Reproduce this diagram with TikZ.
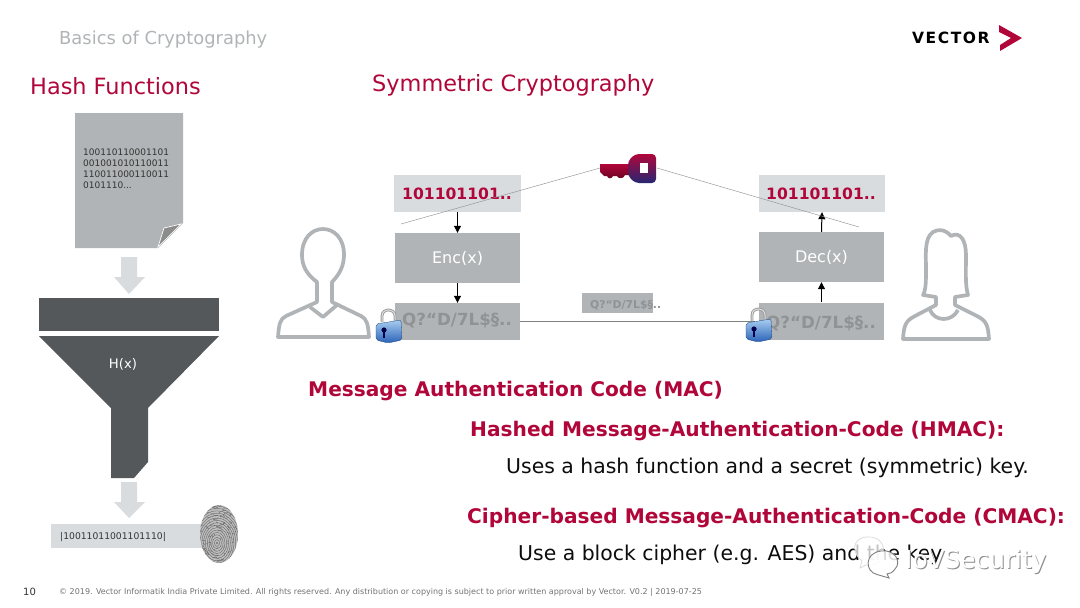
\documentclass[tikz,border=0pt]{standalone}
\usepackage{fontspec}
\setmainfont{DejaVu Sans}
\usetikzlibrary{arrows.meta,shadings}
\definecolor{crim}{HTML}{B1063A}
\definecolor{greyA}{HTML}{B1B4B6}
\definecolor{greyL}{HTML}{D9DCDF}
\definecolor{greyD}{HTML}{54585A}
\definecolor{greyT}{HTML}{8F9396}
\definecolor{lockTop}{HTML}{A8CDF0}
\definecolor{lockBot}{HTML}{2A62B8}
\tikzset{
  x=1pt,y=-1pt,
  txt/.style={inner sep=0pt,anchor=west,text depth=0pt},
  title/.style={txt,text=crim,font=\fontsize{22.4}{26}\selectfont},
  head/.style={txt,text=crim,font=\bfseries\fontsize{20.15}{24}\selectfont},
  body/.style={txt,text=black!95,font=\fontsize{20.4}{24}\selectfont},
  plain/.style={draw=none,fill=greyL,inner sep=0pt,minimum width=#1,minimum height=37pt},
  cipher/.style={draw=none,fill=greyA,inner sep=0pt,minimum width=#1,minimum height=37pt},
  func/.style={draw=none,fill=greyA,inner sep=0pt,minimum width=125pt,minimum height=50pt,text=white,font=\fontsize{16}{19}\selectfont},
  bits/.style={txt,text=crim,font=\bfseries\fontsize{15.6}{19}\selectfont},
  ctext/.style={txt,text=greyT,font=\bfseries\fontsize{16.7}{20}\selectfont},
  flow/.style={-{Triangle[length=7pt,width=7pt]},line width=1pt,black},
  wire/.style={line width=1.3pt,draw=greyD!75},
  keyline/.style={line width=.45pt,draw=greyT},
  person/.style={draw=greyA,line width=3.7pt,line join=round,fill=none},
  blockarrow/.style={fill=greyL,draw=none},
  lockpic/.pic={
    \draw[line width=2.8pt,draw=black!40] (-6,-3) -- (-6,-9) .. controls (-6,-17) and (7,-17) .. (7,-9) -- (7,-3);
    \draw[line width=1pt,draw=black!12] (-6,-3) -- (-6,-9) .. controls (-6,-17) and (7,-17) .. (7,-9) -- (7,-3);
    \shade[top color=lockTop,bottom color=lockBot,draw=lockBot!70!black,line width=.3pt,rounded corners=2pt]
      (-12,-1) -- (13,-5) -- (14,15) -- (0,18) -- (-12,15) -- cycle;
    \fill[black!70!blue] (-4,5) circle (2.6);
    \fill[black!70!blue] (-5,6) rectangle (-3,13);
  }
}
\begin{document}
\begin{tikzpicture}
\useasboundingbox (0,0) rectangle (1080,608);
\fill[white] (0,0) rectangle (1080,608);

% header
\node[txt,text=greyA,font=\fontsize{17.9}{21}\selectfont] (basics) at (59,38) {Basics of Cryptography};
\node[txt,font=\bfseries\fontsize{15.5}{18}\selectfont,text=black] (vector) at (912,38) {\addfontfeatures{LetterSpace=10}VECTOR};
\fill[crim] (999,25) -- (1022,38) -- (1000,51) -- (1000,45) -- (1011,38) -- (999,32) -- cycle;

\node[title] (hash) at (30,86) {Hash Functions};
\node[title] (sym) at (372,83) {Symmetric Cryptography};

% hash column
\fill[greyA] (75,113) -- (183,113) -- (183,223) -- (158,248) -- (75,248) -- cycle;
\fill[black!45,draw=white,line width=.7pt] (158,247) -- (181,224) -- (164,228) -- cycle;
\node[txt,anchor=north west,align=left,text=black!80,font=\fontsize{9}{11}\selectfont] (docbits) at (83,148.5)
  {100110110001101\\001001010110011\\110011000110011\\0101110...};
\fill[blockarrow] (121,257) -- (137,257) -- (137,277) -- (145,277) -- (129,294) -- (114,277) -- (121,277) -- cycle;
\fill[greyD] (39,298) rectangle (219,331);
\fill[greyD] (39,336) -- (219,336) -- (148,408) -- (148,462) -- (134,478) -- (111,478) -- (111,408) -- cycle;
\node[inner sep=0pt,text=white,font=\fontsize{13.2}{16}\selectfont] (hx) at (123,364) {H(x)};
\fill[blockarrow] (121,482) -- (137,482) -- (137,502) -- (145,502) -- (129,518) -- (114,502) -- (121,502) -- cycle;
\fill[greyL] (51,524) rectangle (205,548);
\node[txt,text=black!80,font=\fontsize{9.2}{12}\selectfont] (digest) at (60,535.5) {|10011011001101110|};
% fingerprint
\begin{scope}
  \clip (219,534) ellipse [x radius=19,y radius=29];
  \fill[black!25] (195,500) rectangle (245,570);
  \foreach \r in {1,3.4,...,38}{
    \draw[black!55,line width=.5pt] (217,543) ellipse [x radius=\r*.75,y radius=\r];
  }
  \pgfmathsetseed{7}
  \foreach \i in {1,...,170}{
    \pgfmathsetmacro{\px}{198+rnd*42}
    \pgfmathsetmacro{\py}{505+rnd*58}
    \pgfmathsetmacro{\pa}{rnd*6-3}
    \pgfmathsetmacro{\pb}{rnd*3-1.5}
    \draw[black!60,line width=.45pt] (\px,\py) -- ++(\pa,\pb);
  }
\end{scope}

% symmetric: blocks
\node[plain=127pt] (pL) at (457.5,193.5) {};
\node[plain=126pt] (pR) at (822,193.5) {};
\node[func] (enc) at (457.5,258) {Enc(x)};
\node[func] (dec) at (821.5,257) {Dec(x)};
\node[cipher=125pt] (cL) at (457.5,321.5) {};
\node[cipher=125pt] (cR) at (821.5,321) {};
\node[draw=none,fill=greyA,inner sep=0pt,minimum width=71pt,minimum height=20pt] (msg) at (617.5,303) {};
\node[bits] (bL) at (402,194) {101101101..};
\node[bits] (bR) at (766,194) {101101101..};
\node[ctext] (tL) at (402,319) {Q?“D/7L\$§..};
\node[ctext] (tR) at (766,322) {Q?“D/7L\$§..};
\node[txt,text=greyT,font=\bfseries\fontsize{10.8}{13}\selectfont] (tM) at (590,304) {Q?“D/7L\$§..};

% connectors
\draw[flow] (pL.south) -- (enc.north);
\draw[flow] (enc.south) -- (cL.north);
\draw[flow] (dec.north) -- (pR.south);
\draw[flow] (cR.north) -- (dec.south);
\coordinate (lockRc) at (755,321.5);
\draw[wire] (cL.east |- lockRc) -- (lockRc);

% key
\coordinate (keyLend) at (600,168);
\coordinate (keyRend) at (657,168);
\coordinate (freeL) at (401,224);
\coordinate (freeR) at (859,227);
\draw[keyline] (keyLend) -- (freeL);
\draw[keyline] (keyRend) -- (freeR);
\shade[top color=crim,bottom color=crim!60!black] (600,164) -- (630,164) -- (630,175) -- (625,175)
  .. controls (624,179) and (618,179) .. (617,176) -- (613,176)
  .. controls (612,179) and (608,179) .. (607,176) -- (604,176) -- (600,172) -- cycle;
\shade[top color=crim,bottom color=blue!35!black!85,rounded corners=4pt] (635,154) -- (656,154) -- (656,183) -- (635,183) -- (628,176) -- (628,161) -- cycle;
\fill[white] (640,163) rectangle (648,173);

% persons
\draw[person] (317,282) .. controls (306,274) and (302,265) .. (302,255) .. controls (302,238) and (312,229) .. (323,229)
  .. controls (334,229) and (344,238) .. (344,255) .. controls (344,265) and (340,274) .. (332,282)
  -- (332,302) -- (361,316) .. controls (367,319) and (368,324) .. (369,337) -- (278,337)
  .. controls (279,324) and (280,319) .. (286,316) -- (317,302) -- cycle;
\draw[person] (310,307) -- (323,317) -- (337,305);
\draw[person] (955,297) -- (968,295) .. controls (965,285) and (966,270) .. (966,255)
  .. controls (966,240) and (960,231) .. (951,236) .. controls (945,229) and (938,229) .. (933,232)
  .. controls (924,238) and (926,255) .. (926,270) .. controls (926,280) and (926,290) .. (923,295) -- (936,297)
  -- (936,305) -- (915,316) .. controls (905,321) and (904,326) .. (903,339) -- (989,339)
  .. controls (988,326) and (987,321) .. (977,316) -- (955,305) -- cycle;
\draw[person] (930,310) .. controls (935,322) and (952,322) .. (958,310);

\pic at (388,325) {lockpic};
\pic (lockR) at (758,324) {lockpic};

% MAC text
\node[head] (mac) at (308,389) {Message Authentication Code (MAC)};
\node[head] (hmac) at (470,429) {Hashed Message-Authentication-Code (HMAC):};
\node[body] (uses) at (506,466) {Uses a hash function and a secret (symmetric) key.};
\node[head] (cmac) at (467,516) {Cipher-based Message-Authentication-Code (CMAC):};
\node[body] (use) at (518,553) {Use a block cipher (e.g. AES) and the key};

% footer
\node[txt,text=black!80,font=\fontsize{10}{12}\selectfont] (page) at (23,591.5) {10};
\node[txt,text=black!55,font=\fontsize{8}{10}\selectfont] (legal) at (59,591) {© 2019. Vector Informatik India Private Limited. All rights reserved. Any distribution or copying is subject to prior written approval by Vector. V0.2 | 2019-07-25};

% watermark
\draw[black!15,line width=.7pt,fill=white,fill opacity=.75] (862,561) .. controls (852,554) and (851,538) .. (867,537) .. controls (880,536) and (886,546) .. (883,556) .. controls (880,564) and (872,566) .. (866,565) -- (860,568) -- cycle;
\fill[white,fill opacity=.85] (883,563) ellipse [x radius=15,y radius=12];
\draw[black!50,line width=.9pt] (877,574.5) .. controls (865,572) and (864,553) .. (881,551) .. controls (895,549) and (902,562) .. (895,569) .. controls (893,572) and (890,574) .. (887,574) -- (889,578) -- cycle;
\node[txt,text=black!45,font=\fontsize{24.8}{29}\selectfont] (wmS) at (906,560) {IoVSecurity};
\node[txt,text=white,font=\fontsize{24.8}{29}\selectfont] (wm) at (905,559) {IoVSecurity};
\end{tikzpicture}
\end{document}
